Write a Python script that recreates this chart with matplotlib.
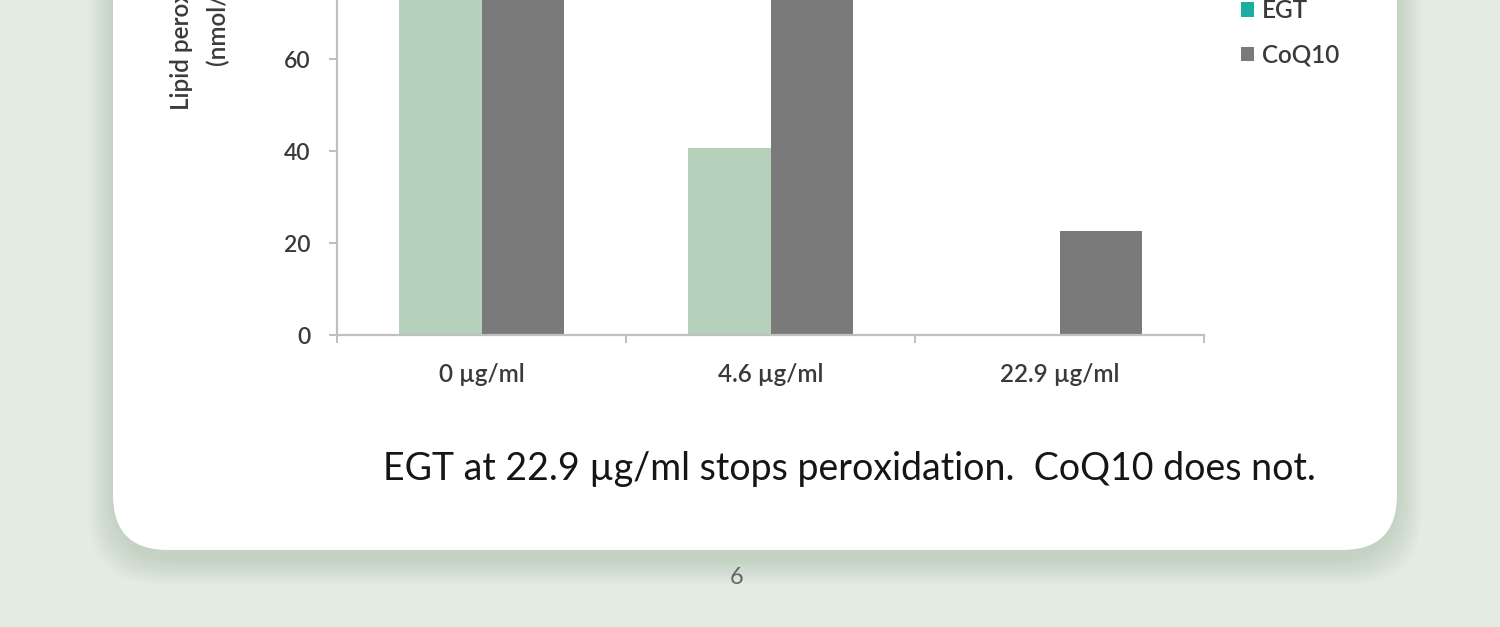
import matplotlib
matplotlib.use("Agg")
import matplotlib.pyplot as plt
from matplotlib.patches import FancyBboxPatch, Patch

# ---- data ----
categories = ["0 \u00b5g/ml", "4.6 \u00b5g/ml", "22.9 \u00b5g/ml"]
egt = [118, 40.7, 0]
coq10 = [122, 105, 22.6]
series_names = ["EGT", "CoQ10"]
y_ticks = [0, 20, 40, 60, 80, 100, 120, 140]
ylabel = "Lipid peroxidation\n(nmol/ml)"
caption = "EGT at 22.9 \u00b5g/ml stops peroxidation.  CoQ10 does not."
page_no = "6"

plt.rcParams['font.family'] = ['Lato', 'DejaVu Sans']

W, H = 1500, 627
fig = plt.figure(figsize=(W / 100, H / 100), dpi=100)
fig.patch.set_facecolor("#e3ece3")

# background / card axes in pixel coordinates
bg = fig.add_axes([0, 0, 1, 1], zorder=0)
bg.set_xlim(0, W)
bg.set_ylim(H, 0)
bg.axis("off")
bg.set_facecolor("none")
# soft shadow
for i in range(10):
    g = 24 - i * 2.5
    bg.add_patch(FancyBboxPatch((113 - g, -200), 1284 + 2 * g, 750 + 10 + g,
                                boxstyle="round,pad=0,rounding_size=70",
                                facecolor="#8aa58d", edgecolor="none", alpha=0.035))
bg.add_patch(FancyBboxPatch((113, -200), 1284, 750,
                            boxstyle="round,pad=0,rounding_size=55",
                            facecolor="white", edgecolor="none"))

# chart axes
x0, x1, ybase = 337, 1204, 335
ymax = y_ticks[-1]
ppu = 4.6
ax_h = ymax * ppu
ax = fig.add_axes([x0 / W, (H - ybase) / H, (x1 - x0) / W, ax_h / H], zorder=2)
ax.set_facecolor("none")

xs = list(range(len(categories)))
w = 0.285
ax.bar([x - w / 2 for x in xs], egt, width=w, color="#b5d1bb", label=series_names[0])
ax.bar([x + w / 2 for x in xs], coq10, width=w, color="#7a7a7a", label=series_names[1])

ax.set_xlim(-0.5, len(categories) - 0.5)
ax.set_ylim(0, ymax)
for s in ["top", "right"]:
    ax.spines[s].set_visible(False)
for s in ["left", "bottom"]:
    ax.spines[s].set_color("#c0c0c0")
    ax.spines[s].set_linewidth(1.6)

ax.set_xticks(xs)
ax.set_xticklabels(categories)
ax.set_xticks([-0.5, 0.5, 1.5, 2.5], minor=True)
ax.tick_params(axis="x", which="major", length=0, pad=20, labelsize=17.5, labelcolor="#3a3a3a")
ax.tick_params(axis="x", which="minor", length=6, width=1.4, color="#c0c0c0")
ax.set_yticks(y_ticks)
ax.tick_params(axis="y", length=6, width=1.4, color="#c0c0c0", pad=13,
               labelsize=16.5, labelcolor="#3a3a3a")
for t in ax.get_xticklabels() + ax.get_yticklabels():
    t.set_fontweight("semibold")

ax.set_ylabel(ylabel, fontsize=17.5, color="#3a3a3a", fontweight="semibold", linespacing=1.65)
ax.yaxis.set_label_coords(-(x0 - 229) / (x1 - x0), 0.5)

handles = [Patch(facecolor="#1aada0", edgecolor="none"),
           Patch(facecolor="#7a7a7a", edgecolor="none")]
leg = fig.legend(handles, series_names, loc="upper left",
                 bbox_to_anchor=(1219 / W, 1 + 23 / H), frameon=False,
                 prop={"size": 17.5, "weight": "semibold"},
                 handlelength=0.55, handleheight=0.55,
                 handletextpad=0.3, labelspacing=0.9)
for t in leg.get_texts():
    t.set_color("#3a3a3a")

fig.text(849 / W, 1 - 469 / H, caption, ha="center", va="center",
         fontsize=27, color="#151515", zorder=3)
fig.text(737 / W, 1 - 578 / H, page_no, ha="center", va="center",
         fontsize=17, color="#666666", zorder=3)

fig.savefig("out.png", dpi=100, facecolor=fig.get_facecolor())
